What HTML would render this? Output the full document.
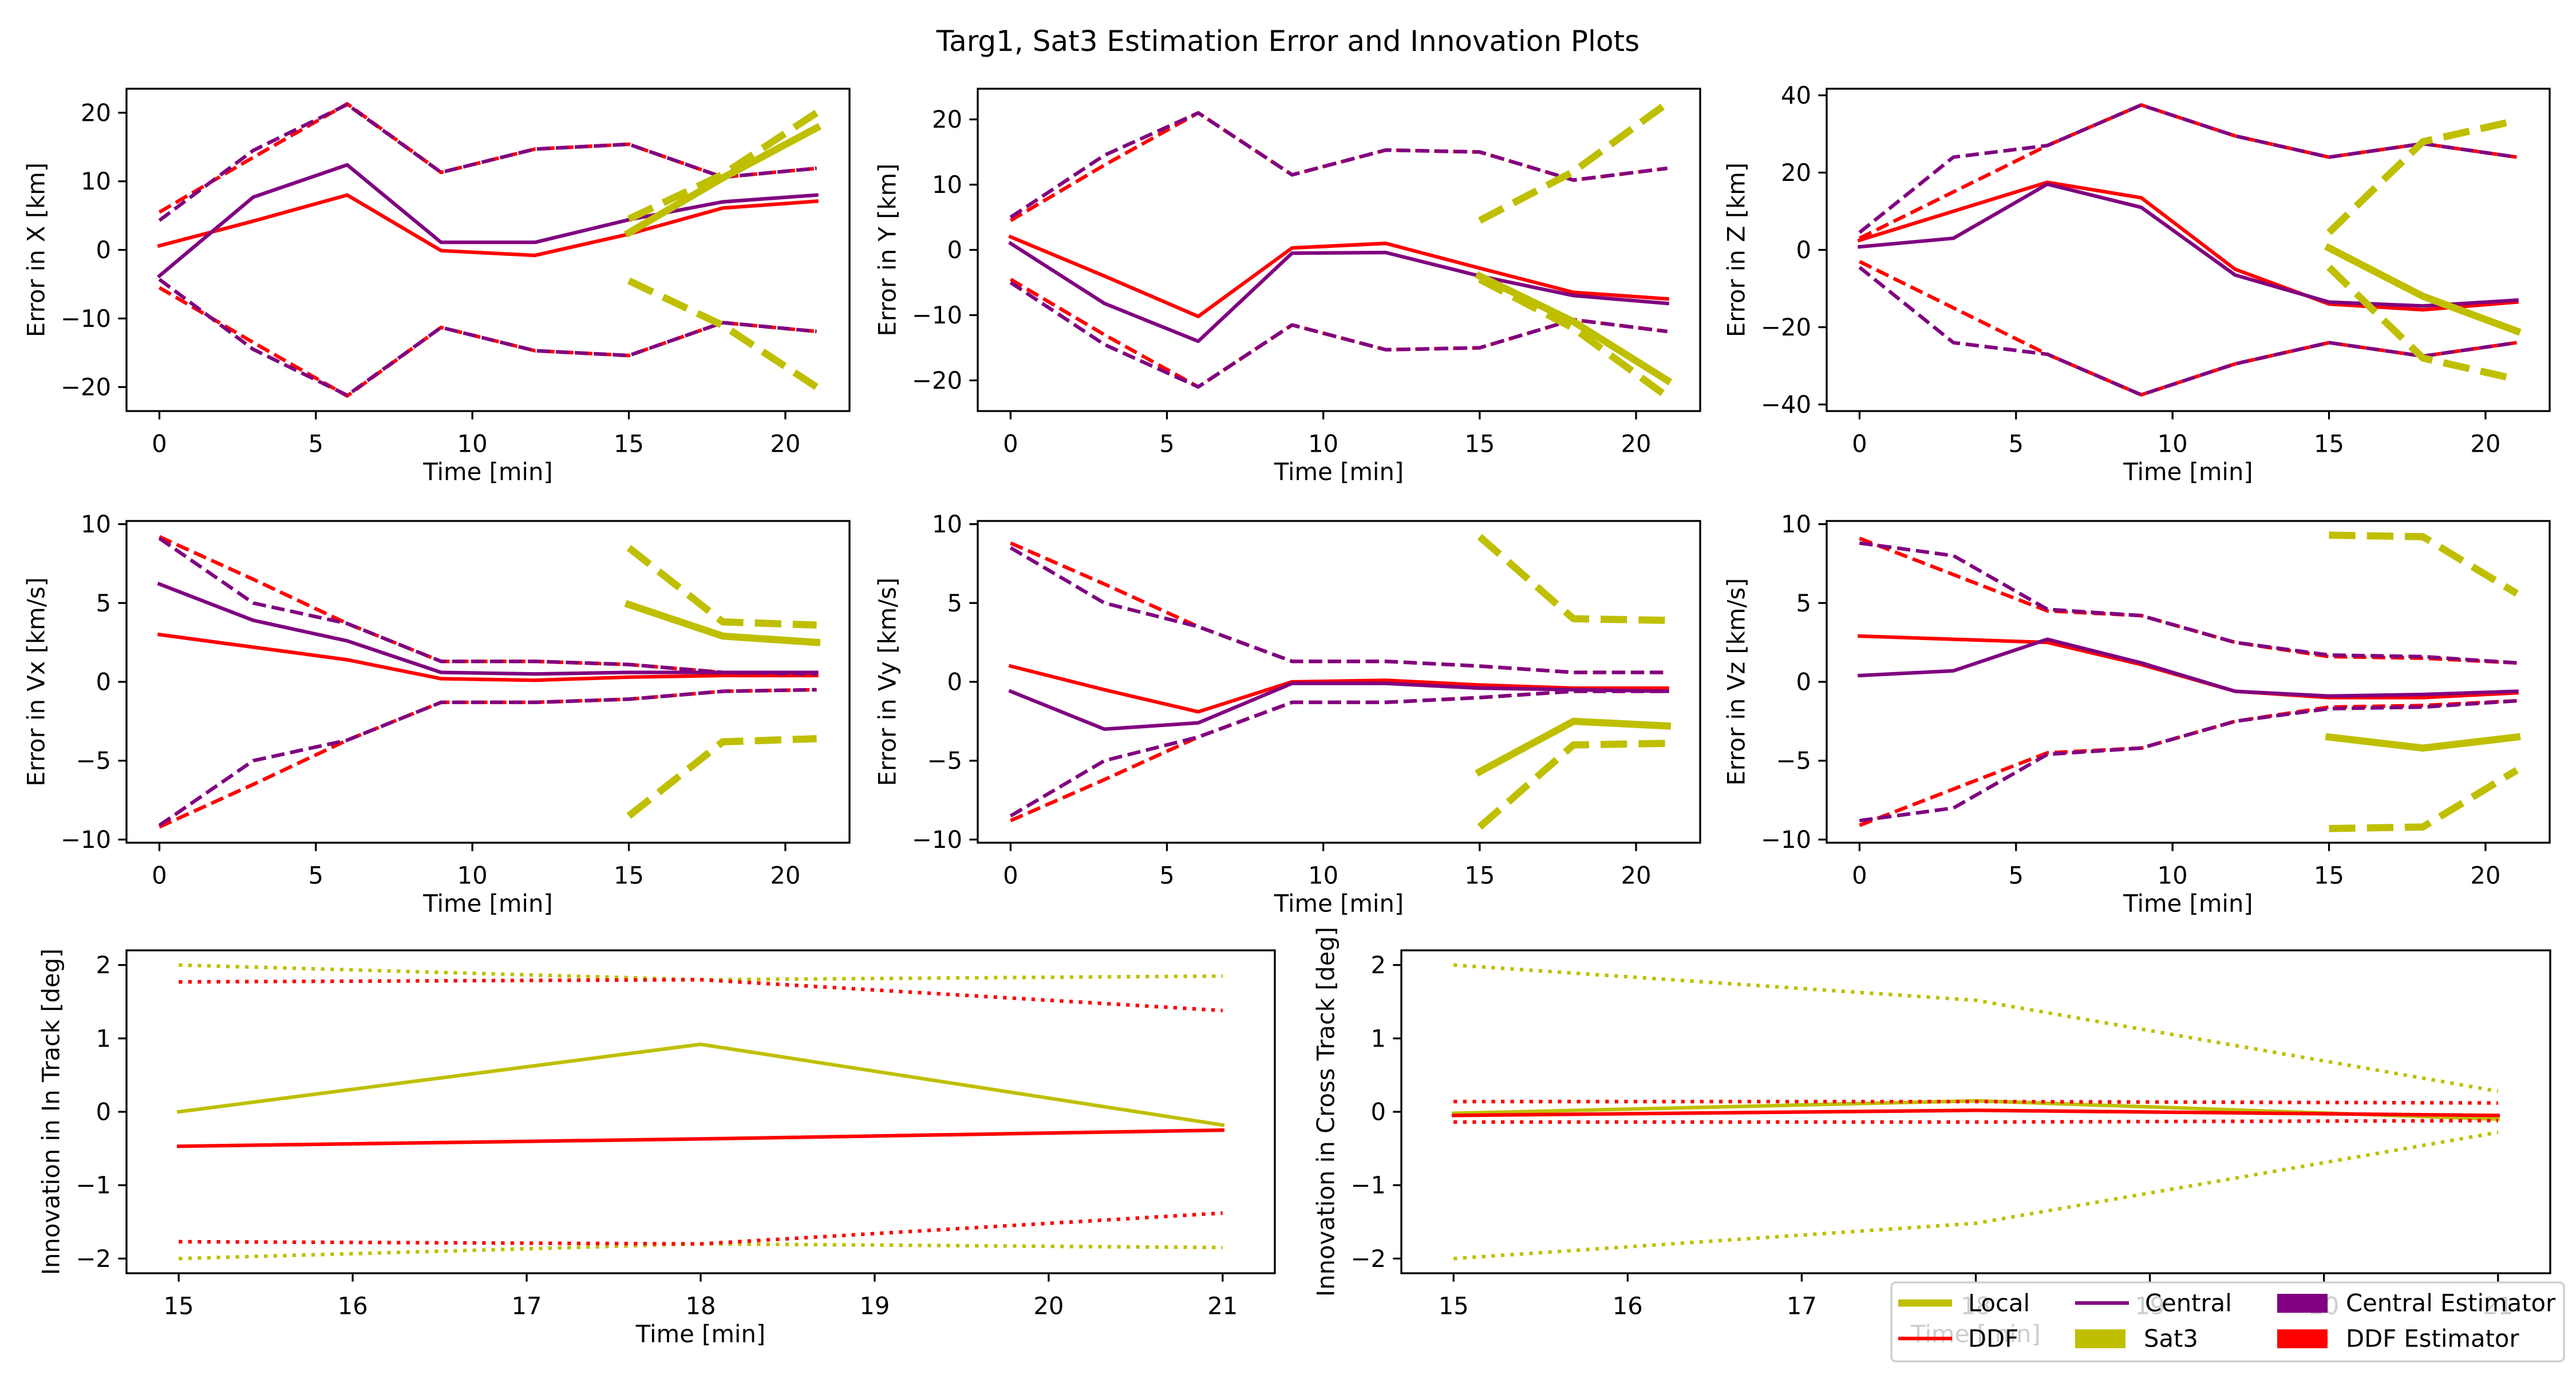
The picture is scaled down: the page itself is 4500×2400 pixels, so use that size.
<!DOCTYPE html>
<html><head><meta charset="utf-8"><style>
html,body{margin:0;padding:0;background:#fff}
svg{display:block}
text{font-family:"DejaVu Sans","Liberation Sans",sans-serif;fill:#000}
</style></head><body>
<svg id="fig" width="4500" height="2400" viewBox="0 0 4500 2400" xmlns="http://www.w3.org/2000/svg">
<rect x="0" y="0" width="4500" height="2400" fill="#fff"/>
<text x="2250" y="72" font-size="50" text-anchor="middle" dominant-baseline="central">Targ1, Sat3 Estimation Error and Innovation Plots</text>
</svg>
<script>
const T = [0,3,6,9,12,15,18,21];
const TS = [15,18,21];
// Error in X
const xDDF = [0.6,4.2,8,-0.1,-0.8,2.3,6.1,7.1];
const xCen = [-3.8,7.7,12.4,1.1,1.1,4.4,7,8];
const xDDFsig = [5.5,13.5,21.3,11.3,14.7,15.4,10.6,11.9];
const xCenSig = [4.3,14.5,21.2,11.3,14.7,15.4,10.6,11.9];
const xLoc = [2.5,10.5,17.8];
const xLocSig = [4.5,11,20];
// Error in Y
const yDDF = [2,-4,-10.2,0.3,1,-2.8,-6.5,-7.5];
const yCen = [1,-8.2,-14,-0.5,-0.4,-4,-7,-8.2];
const yDDFsig = [4.5,13,21,11.5,15.3,15,10.7,12.5];
const yCenSig = [5,14.5,21,11.5,15.3,15,10.7,12.5];
const yLoc = [-4,-11,-20];
const yLocSig = [4.5,12,22.5];
// Error in Z
const zDDF = [2.5,10,17.5,13.5,-5,-14,-15.5,-13.5];
const zCen = [0.8,3,17,11,-6.5,-13.5,-14.5,-13];
const zDDFsig = [3,15,27,37.5,29.5,24,27.5,24];
const zCenSig = [4.5,24,27,37.5,29.5,24,27.5,24];
const zLoc = [0.5,-12,-21];
const zLocSig = [4.5,28,33.5];
// Error in Vx
const vxDDF = [3,2.2,1.4,0.2,0.1,0.3,0.4,0.4];
const vxCen = [6.2,3.9,2.6,0.6,0.5,0.6,0.6,0.6];
const vxDDFsig = [9.2,6.5,3.7,1.3,1.3,1.1,0.6,0.5];
const vxCenSig = [9.1,5,3.7,1.3,1.3,1.1,0.6,0.5];
const vxLoc = [4.9,2.9,2.5];
const vxLocSig = [8.5,3.8,3.6];
// Error in Vy
const vyDDF = [1,-0.5,-1.9,0,0.1,-0.2,-0.4,-0.4];
const vyCen = [-0.6,-3,-2.6,-0.1,-0.1,-0.4,-0.5,-0.6];
const vyDDFsig = [8.8,6.2,3.5,1.3,1.3,1.0,0.6,0.6];
const vyCenSig = [8.5,5,3.5,1.3,1.3,1.0,0.6,0.6];
const vyLoc = [-5.7,-2.5,-2.8];
const vyLocSig = [9.2,4,3.9];
// Error in Vz
const vzDDF = [2.9,2.7,2.5,1.1,-0.6,-1,-1,-0.7];
const vzCen = [0.4,0.7,2.7,1.2,-0.6,-0.9,-0.8,-0.6];
const vzDDFsig = [9.1,6.8,4.5,4.2,2.5,1.6,1.5,1.2];
const vzCenSig = [8.8,8,4.6,4.2,2.5,1.7,1.6,1.2];
const vzLoc = [-3.5,-4.2,-3.5];
const vzLocSig = [9.3,9.2,5.6];
// Innovations
const inLoc = [0,0.92,-0.18];
const inDDF = [-0.47,-0.37,-0.25];
const inLocSig = [2,1.8,1.85];
const inDDFsig = [1.77,1.8,1.38];
const crLoc = [-0.02,0.15,-0.1];
const crDDF = [-0.05,0.02,-0.05];
const crLocSig = [2,1.52,0.28];
const crDDFsig = [0.14,0.14,0.12];
// Tick labels
const tTicks = [0,5,10,15,20];
const tsTicks = [15,16,17,18,19,20,21];
const yTicksX = [-20,-10,0,10,20];
const yTicksZ = [-40,-20,0,20,40];
const yTicksV = [-10,-5,0,5,10];
const yTicksI = [-2,-1,0,1,2];

const NS = 'http://www.w3.org/2000/svg';
const svg = document.getElementById('fig');
const YEL = '#bfbf00', PUR = '#800080', RED = '#ff0000';
function mk(tag, attrs, parent){
  const e = document.createElementNS(NS, tag);
  for (const k in attrs) e.setAttribute(k, attrs[k]);
  (parent||svg).appendChild(e);
  return e;
}
function neg(a){ return a.map(v => -v); }
function fmt(v){ return v < 0 ? '\u2212' + Math.abs(v) : String(v); }

const LW = 6.25;
const DASH1 = (3.7*LW)+','+(1.6*LW);
const DASH2 = (3.7*12.5)+','+(1.6*12.5);
const DOT = (1*LW)+','+(1.65*LW);

function panel(cfg){
  const [L,Tp,R,B] = cfg.box;
  const g = mk('g', {});
  
  
  const sx = v => L + (v - cfg.xr[0]) / (cfg.xr[1]-cfg.xr[0]) * (R-L);
  const sy = v => B - (v - cfg.yr[0]) / (cfg.yr[1]-cfg.yr[0]) * (B-Tp);
  const clip = 'clip-' + cfg.name;
  const cp = mk('clipPath', {id: clip}, g);
  mk('rect', {x:L, y:Tp, width:R-L, height:B-Tp}, cp);
  const plotG = mk('g', {'clip-path':'url(#'+clip+')'}, g);
  
  
  cfg.series.forEach(s => {
    const pts = s.x.map((xv,i) => sx(xv).toFixed(1)+','+sy(s.y[i]).toFixed(1)).join(' ');
    const attrs = {points: pts, fill:'none', stroke:s.c, 'stroke-width':s.w, 'stroke-linejoin':'round'};
    if (s.d) attrs['stroke-dasharray'] = s.d;
    if (!s.d) attrs['stroke-linecap'] = 'square';
    const p = mk('polyline', attrs, plotG);
    
    
  });
  const frame = mk('rect', {x:L, y:Tp, width:R-L, height:B-Tp, fill:'none', stroke:'#000', 'stroke-width':3.3}, g);
  
  
  const xa = mk('g', {}, g);
  
  
  cfg.xt.forEach(v => {
    const x = sx(v);
    mk('line', {x1:x, y1:B, x2:x, y2:B+14.6, stroke:'#000', 'stroke-width':3.3}, xa);
    const t = mk('text', {x:x, y:B+57, 'font-size':41.7, 'text-anchor':'middle', 'dominant-baseline':'central'}, xa);
    t.textContent = fmt(v);
    
    
  });
  const xl = mk('text', {x:(L+R)/2, y:B+106, 'font-size':41.7, 'text-anchor':'middle', 'dominant-baseline':'central'}, g);
  xl.textContent = 'Time [min]';
  
  
  const ya = mk('g', {}, g);
  
  
  cfg.yt.forEach(v => {
    const y = sy(v);
    mk('line', {x1:L-14.6, y1:y, x2:L, y2:y, stroke:'#000', 'stroke-width':3.3}, ya);
    const t = mk('text', {x:L-27, y:y, 'font-size':41.7, 'text-anchor':'end', 'dominant-baseline':'central'}, ya);
    t.textContent = fmt(v);
    
    
  });
  const yl = mk('text', {x:cfg.ylx, y:(Tp+B)/2, 'font-size':41.7, 'text-anchor':'middle', 'dominant-baseline':'central', transform:'rotate(-90 '+cfg.ylx+' '+((Tp+B)/2)+')'}, g);
  yl.textContent = cfg.ylabel;
  
  
}

function errSeries(ddf, cen, ddfS, cenS, loc, locS){
  return [
    {n:'ddf-error', x:T, y:ddf, c:RED, w:LW},
    {n:'ddf-sigma-upper', x:T, y:ddfS, c:RED, w:LW, d:DASH1},
    {n:'ddf-sigma-lower', x:T, y:neg(ddfS), c:RED, w:LW, d:DASH1},
    {n:'central-error', x:T, y:cen, c:PUR, w:LW},
    {n:'central-sigma-upper', x:T, y:cenS, c:PUR, w:LW, d:DASH1},
    {n:'central-sigma-lower', x:T, y:neg(cenS), c:PUR, w:LW, d:DASH1},
    {n:'local-error', x:TS, y:loc, c:YEL, w:12.5},
    {n:'local-sigma-upper', x:TS, y:locS, c:YEL, w:12.5, d:DASH2},
    {n:'local-sigma-lower', x:TS, y:neg(locS), c:YEL, w:12.5, d:DASH2}
  ];
}
function innSeries(loc, ddf, locS, ddfS){
  return [
    {n:'local-innovation', x:TS, y:loc, c:YEL, w:LW},
    {n:'ddf-innovation', x:TS, y:ddf, c:RED, w:LW},
    {n:'local-sigma-upper', x:TS, y:locS, c:YEL, w:LW, d:DOT},
    {n:'local-sigma-lower', x:TS, y:neg(locS), c:YEL, w:LW, d:DOT},
    {n:'ddf-sigma-upper', x:TS, y:ddfS, c:RED, w:LW, d:DOT},
    {n:'ddf-sigma-lower', x:TS, y:neg(ddfS), c:RED, w:LW, d:DOT}
  ];
}
const XR = [-1.05,22.05];
const XRS = [14.7,21.3];
const C1=[221,1484], C2=[1708,2970], C3=[3191,4454];
const R1=[155,718], R2=[910,1472], R3=[1660,2224];
panel({name:'error-x-panel', box:[C1[0],R1[0],C1[1],R1[1]], xr:XR, yr:[-23.5,23.5], xt:tTicks, yt:yTicksX, ylx:63, ylabel:'Error in X [km]', series:errSeries(xDDF,xCen,xDDFsig,xCenSig,xLoc,xLocSig)});
panel({name:'error-y-panel', box:[C2[0],R1[0],C2[1],R1[1]], xr:XR, yr:[-24.7,24.7], xt:tTicks, yt:yTicksX, ylx:1550, ylabel:'Error in Y [km]', series:errSeries(yDDF,yCen,yDDFsig,yCenSig,yLoc,yLocSig)});
panel({name:'error-z-panel', box:[C3[0],R1[0],C3[1],R1[1]], xr:XR, yr:[-41.7,41.7], xt:tTicks, yt:yTicksZ, ylx:3033, ylabel:'Error in Z [km]', series:errSeries(zDDF,zCen,zDDFsig,zCenSig,zLoc,zLocSig)});
panel({name:'error-vx-panel', box:[C1[0],R2[0],C1[1],R2[1]], xr:XR, yr:[-10.2,10.2], xt:tTicks, yt:yTicksV, ylx:63, ylabel:'Error in Vx [km/s]', series:errSeries(vxDDF,vxCen,vxDDFsig,vxCenSig,vxLoc,vxLocSig)});
panel({name:'error-vy-panel', box:[C2[0],R2[0],C2[1],R2[1]], xr:XR, yr:[-10.2,10.2], xt:tTicks, yt:yTicksV, ylx:1550, ylabel:'Error in Vy [km/s]', series:errSeries(vyDDF,vyCen,vyDDFsig,vyCenSig,vyLoc,vyLocSig)});
panel({name:'error-vz-panel', box:[C3[0],R2[0],C3[1],R2[1]], xr:XR, yr:[-10.2,10.2], xt:tTicks, yt:yTicksV, ylx:3033, ylabel:'Error in Vz [km/s]', series:errSeries(vzDDF,vzCen,vzDDFsig,vzCenSig,vzLoc,vzLocSig)});
panel({name:'in-track-panel', box:[221,R3[0],2227,R3[1]], xr:XRS, yr:[-2.2,2.2], xt:tsTicks, yt:yTicksI, ylx:89, ylabel:'Innovation in In Track [deg]', series:innSeries(inLoc,inDDF,inLocSig,inDDFsig)});
panel({name:'cross-track-panel', box:[2448,R3[0],4455,R3[1]], xr:XRS, yr:[-2.2,2.2], xt:tsTicks, yt:yTicksI, ylx:2316, ylabel:'Innovation in Cross Track [deg]', series:innSeries(crLoc,crDDF,crLocSig,crDDFsig)});

// Legend
const lg = mk('g', {});


mk('rect', {x:3304, y:2240, width:1175, height:138, rx:8, fill:'#fff', 'fill-opacity':0.8, stroke:'#cccccc', 'stroke-width':3.3}, lg);
const legendLabels = ['Local','DDF','Central','Sat3','Central Estimator','DDF Estimator'];
const entries = [
  {k:'line', c:YEL, w:12.5, x:3316, y:2276},
  {k:'line', c:RED, w:LW, x:3316, y:2338},
  {k:'line', c:PUR, w:LW, x:3625, y:2276},
  {k:'patch', c:YEL, x:3625, y:2338},
  {k:'patch', c:PUR, x:3978, y:2276},
  {k:'patch', c:RED, x:3978, y:2338}
];
entries.forEach((e,i) => {
  const eg = mk('g', {}, lg);
  
  
  let tx;
  if (e.k === 'line') {
    mk('line', {x1:e.x, y1:e.y, x2:e.x+94, y2:e.y, stroke:e.c, 'stroke-width':e.w}, eg);
    tx = e.x + 122;
  } else {
    mk('rect', {x:e.x, y:e.y-16, width:88, height:33, fill:e.c}, eg);
    tx = e.x + 120;
  }
  const t = mk('text', {x:tx, y:e.y, 'font-size':41.7, 'dominant-baseline':'central'}, eg);
  t.textContent = legendLabels[i];
});
</script>
</body></html>
